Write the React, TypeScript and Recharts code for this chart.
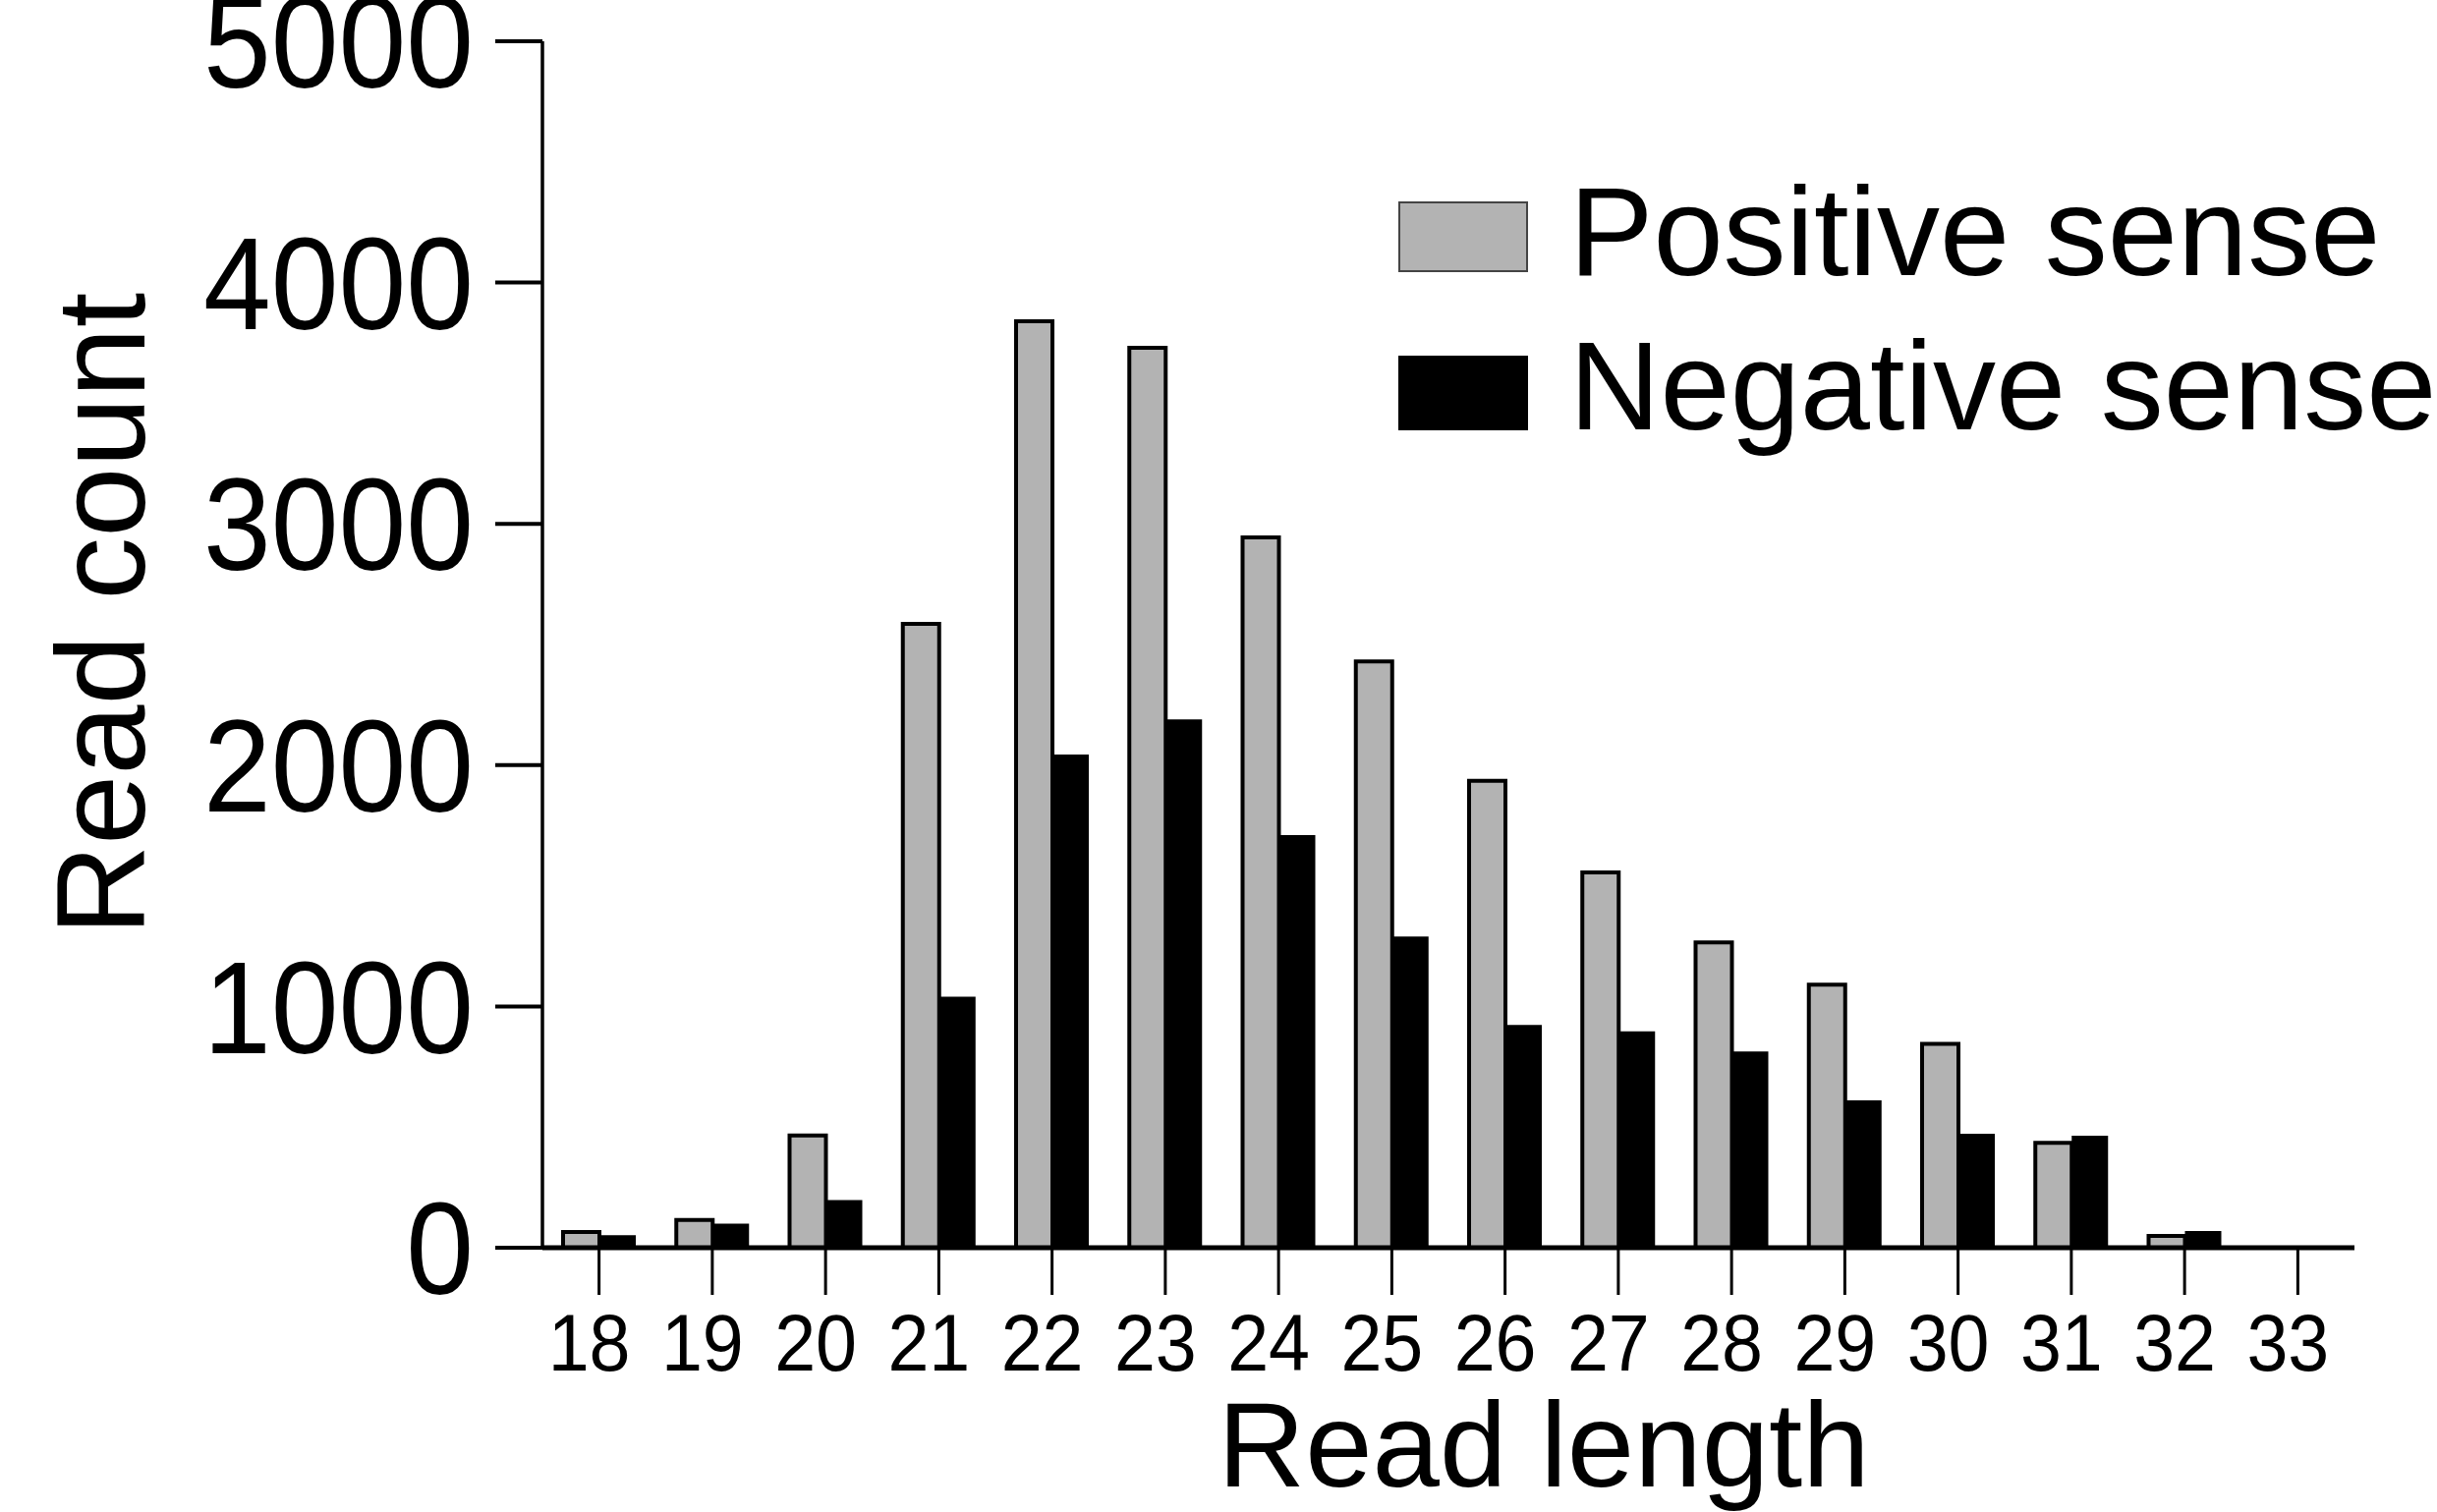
import React from 'react';
import { BarChart, Bar, XAxis, YAxis, Legend } from 'recharts';

const lengths = ['18', '19', '20', '21', '22', '23', '24', '25', '26', '27', '28', '29', '30', '31', '32', '33'];
const positiveSense = [65, 115, 465, 2585, 3840, 3730, 2944, 2430, 1935, 1555, 1265, 1090, 845, 435, 49, 0];
const negativeSense = [52, 100, 197, 1040, 2044, 2190, 1710, 1290, 923, 897, 813, 611, 472, 464, 69, 0];
const yTicks = [0, 1000, 2000, 3000, 4000, 5000];
const seriesOrder = ['pos', 'neg'];

const data = lengths.map((len, i) => ({ len, pos: positiveSense[i], neg: negativeSense[i] }));

const FONT = '"Liberation Sans", Arial, Helvetica, sans-serif';

const YTick = (props: any) => {
  const { x, y, payload } = props;
  return (
    <text transform={`translate(${x},${y}) scale(0.93,1)`} textAnchor="end" dy="0.355em" fontSize={133} fontFamily={FONT} fill="#000">
      {payload.value}
    </text>
  );
};

const XTick = (props: any) => {
  const { x, y, payload } = props;
  return (
    <text transform={`translate(${x - 10},${y}) scale(0.92,1)`} textAnchor="middle" dy="0.71em" fontSize={82} fontFamily={FONT} fill="#000">
      {payload.value}
    </text>
  );
};

const YTitle = () => (
  <text transform="translate(147,625) rotate(-90)" textAnchor="middle" fontSize={128} fontFamily={FONT} fill="#000">
    Read count
  </text>
);

const XTitle = () => (
  <text x={1571} y={1513} textAnchor="middle" fontSize={123} fontFamily={FONT} fill="#000">
    Read length
  </text>
);

const LegendContent = (props: any) => {
  const payload = props.payload || [];
  const rows = [
    { boxY: 56, boxH: 70, base: 130 },
    { boxY: 213, boxH: 74, base: 287 },
  ];
  const ordered = seriesOrder
    .map((k) => payload.find((p: any) => p.dataKey === k))
    .filter(Boolean);
  return (
    <svg width={1100} height={330} style={{ display: 'block' }}>
      {ordered.map((entry: any, i: number) => {
        const r = rows[i];
        const isPos = entry.dataKey === 'pos';
        return (
          <g key={entry.value}>
            <rect x={44} y={r.boxY} width={130} height={r.boxH} fill={isPos ? '#b3b3b3' : '#000'} stroke={isPos ? '#444' : '#000'} strokeWidth={2} />
            <text x={217} y={r.base} fontSize={128} fontFamily={FONT} fill="#000">{entry.value}</text>
          </g>
        );
      })}
    </svg>
  );
};

export default function App() {
  return (
    <div style={{ position: 'absolute', left: 0, top: 0, width: 2480, height: 1539, background: '#fff' }}>
      <BarChart
        width={2480}
        height={1539}
        data={data}
        margin={{ top: 42, right: 84, bottom: 0, left: 0 }}
        barGap={0}
        barSize={37}
      >
        <XAxis
          dataKey="len"
          height={269}
          interval={0}
          tickSize={48}
          tickMargin={19}
          axisLine={{ stroke: '#000', strokeWidth: 5 }}
          tickLine={{ stroke: '#000', strokeWidth: 3 }}
          tick={<XTick />}
          label={{ content: () => <XTitle /> }}
        />
        <YAxis
          type="number"
          domain={[0, 5000]}
          ticks={yTicks}
          interval={0}
          width={552}
          tickSize={48}
          tickMargin={22}
          axisLine={{ stroke: '#000', strokeWidth: 3.5 }}
          tickLine={{ stroke: '#000', strokeWidth: 4 }}
          tick={<YTick />}
          label={{ content: () => <YTitle /> }}
        />
        <Legend
          layout="vertical"
          align="center"
          verticalAlign="middle"
          wrapperStyle={{ left: 1380, top: 150, width: 1100, height: 330 }}
          content={<LegendContent />}
        />
        <Bar dataKey="pos" name="Positive sense" fill="#b3b3b3" stroke="#000" strokeWidth={4} isAnimationActive={false} />
        <Bar dataKey="neg" name="Negative sense" fill="#000" stroke="#000" strokeWidth={0} isAnimationActive={false} />
      </BarChart>
    </div>
  );
}
